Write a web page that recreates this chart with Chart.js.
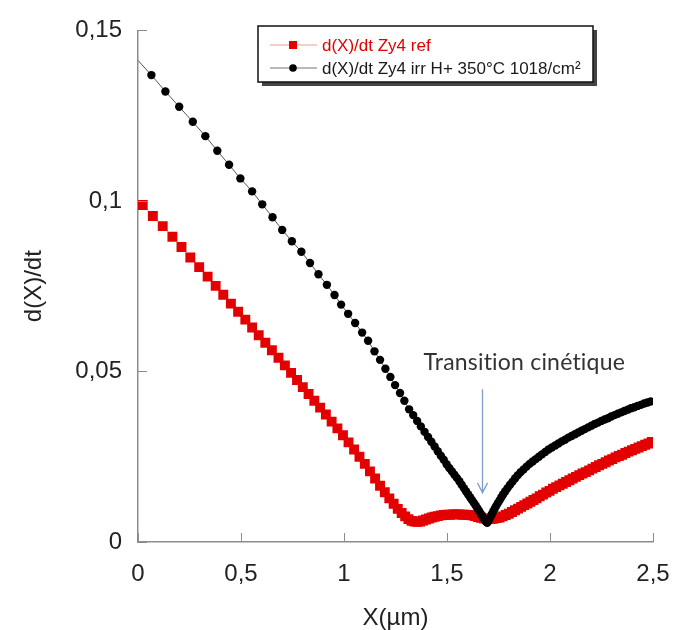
<!DOCTYPE html>
<html>
<head>
<meta charset="utf-8">
<title>d(X)/dt vs X</title>
<script src="https://cdn.jsdelivr.net/npm/chart.js@4.4.1/dist/chart.umd.min.js"></script>
<style>
  html, body { margin: 0; padding: 0; background: #fff; }
  #wrap { width: 673px; height: 630px; position: relative; }
</style>
</head>
<body>
<div id="wrap"><canvas id="rateChart" width="673" height="630"></canvas></div>
<script>
// series: X (µm) and d(X)/dt
var redLabel = 'd(X)/dt Zy4 ref';
var redX = [0.023, 0.072, 0.120, 0.167, 0.211, 0.254, 0.297, 0.338, 0.377, 0.414,
  0.451, 0.486, 0.521, 0.554, 0.586, 0.618, 0.650, 0.682, 0.713, 0.743,
  0.772, 0.800, 0.828, 0.856, 0.884, 0.912, 0.940, 0.968, 0.995, 1.022,
  1.049, 1.075, 1.101, 1.126, 1.151, 1.175, 1.198, 1.220, 1.241, 1.261,
  1.280, 1.297, 1.313, 1.328, 1.342, 1.356, 1.370, 1.384, 1.398, 1.412,
  1.426, 1.440, 1.455, 1.470, 1.485, 1.500, 1.515, 1.530, 1.545, 1.560,
  1.575, 1.590, 1.605, 1.620, 1.635, 1.650, 1.665, 1.680, 1.695, 1.710,
  1.725, 1.740, 1.755, 1.770, 1.785, 1.800, 1.815, 1.830, 1.845, 1.860,
  1.875, 1.890, 1.905, 1.920, 1.935, 1.950, 1.966, 1.982, 1.998, 2.014,
  2.030, 2.046, 2.062, 2.078, 2.094, 2.110, 2.126, 2.142, 2.158, 2.174,
  2.190, 2.206, 2.222, 2.238, 2.254, 2.270, 2.286, 2.302, 2.318, 2.334,
  2.350, 2.366, 2.382, 2.398, 2.414, 2.430, 2.446, 2.462, 2.478, 2.494];
var redY = [0.0988, 0.0956, 0.0926, 0.0895, 0.0865, 0.0834, 0.0806, 0.0778, 0.0751, 0.0725,
  0.0699, 0.0675, 0.0652, 0.0629, 0.0606, 0.0584, 0.0562, 0.0540, 0.0518, 0.0496,
  0.0475, 0.0454, 0.0434, 0.0414, 0.0394, 0.0374, 0.0353, 0.0333, 0.0313, 0.0292,
  0.0271, 0.0250, 0.0229, 0.0207, 0.0186, 0.0165, 0.0146, 0.0128, 0.0112, 0.0097,
  0.0085, 0.0075, 0.0067, 0.0062, 0.0060, 0.0059, 0.0060, 0.0063, 0.0066, 0.0069,
  0.0072, 0.0074, 0.0076, 0.0078, 0.0079, 0.0080, 0.0080, 0.0081, 0.0081, 0.0081,
  0.0080, 0.0080, 0.0079, 0.0078, 0.0076, 0.0073, 0.0071, 0.0069, 0.0067, 0.0067,
  0.0068, 0.0070, 0.0072, 0.0075, 0.0079, 0.0083, 0.0088, 0.0093, 0.0098, 0.0103,
  0.0108, 0.0113, 0.0118, 0.0123, 0.0128, 0.0134, 0.0139, 0.0145, 0.0150, 0.0156,
  0.0161, 0.0166, 0.0171, 0.0176, 0.0181, 0.0186, 0.0191, 0.0196, 0.0201, 0.0205,
  0.0210, 0.0215, 0.0220, 0.0225, 0.0229, 0.0234, 0.0239, 0.0243, 0.0248, 0.0252,
  0.0256, 0.0261, 0.0265, 0.0269, 0.0273, 0.0277, 0.0281, 0.0285, 0.0289, 0.0293];

var blackLabel = 'd(X)/dt Zy4 irr H+ 350°C 1018/cm²';
var blackX = [0, 0.065, 0.133, 0.200, 0.266, 0.327, 0.385, 0.442, 0.497, 0.554,
  0.603, 0.653, 0.700, 0.747, 0.793, 0.835, 0.876, 0.917, 0.954, 0.986,
  1.020, 1.054, 1.088, 1.117, 1.148, 1.175, 1.201, 1.225, 1.248, 1.272,
  1.293, 1.316, 1.336, 1.355, 1.373, 1.391, 1.408, 1.424, 1.440, 1.455,
  1.470, 1.484, 1.498, 1.511, 1.524, 1.536, 1.548, 1.560, 1.571, 1.582,
  1.592, 1.602, 1.612, 1.621, 1.630, 1.639, 1.647, 1.655, 1.663, 1.670,
  1.677, 1.684, 1.690, 1.695, 1.700, 1.706, 1.712, 1.718, 1.725, 1.732,
  1.739, 1.747, 1.755, 1.764, 1.773, 1.783, 1.794, 1.806, 1.818, 1.831,
  1.844, 1.858, 1.872, 1.886, 1.901, 1.916, 1.931, 1.946, 1.961, 1.977,
  1.993, 2.009, 2.025, 2.041, 2.057, 2.073, 2.089, 2.105, 2.121, 2.137,
  2.153, 2.169, 2.185, 2.201, 2.217, 2.233, 2.249, 2.265, 2.281, 2.297,
  2.313, 2.329, 2.345, 2.361, 2.377, 2.393, 2.409, 2.425, 2.441, 2.457,
  2.473, 2.489];
var blackY = [0.1412, 0.1369, 0.1321, 0.1276, 0.1232, 0.1190, 0.1147, 0.1106, 0.1066, 0.1028,
  0.0990, 0.0952, 0.0915, 0.0882, 0.0851, 0.0818, 0.0785, 0.0754, 0.0724, 0.0696,
  0.0669, 0.0642, 0.0614, 0.0590, 0.0559, 0.0534, 0.0508, 0.0484, 0.0460, 0.0437,
  0.0414, 0.0389, 0.0372, 0.0355, 0.0339, 0.0323, 0.0308, 0.0294, 0.0280, 0.0266,
  0.0253, 0.0241, 0.0228, 0.0217, 0.0207, 0.0197, 0.0188, 0.0178, 0.0168, 0.0158,
  0.0149, 0.0140, 0.0131, 0.0123, 0.0115, 0.0107, 0.0099, 0.0092, 0.0084, 0.0077,
  0.0070, 0.0064, 0.0059, 0.0056, 0.0061, 0.0068, 0.0075, 0.0082, 0.0090, 0.0098,
  0.0106, 0.0114, 0.0122, 0.0131, 0.0140, 0.0149, 0.0158, 0.0168, 0.0177, 0.0187,
  0.0196, 0.0205, 0.0213, 0.0221, 0.0229, 0.0236, 0.0243, 0.0250, 0.0257, 0.0264,
  0.0271, 0.0277, 0.0283, 0.0289, 0.0295, 0.0300, 0.0306, 0.0311, 0.0316, 0.0321,
  0.0326, 0.0331, 0.0336, 0.0341, 0.0346, 0.0350, 0.0355, 0.0359, 0.0363, 0.0368,
  0.0372, 0.0376, 0.0380, 0.0384, 0.0388, 0.0392, 0.0395, 0.0399, 0.0402, 0.0406,
  0.0409, 0.0412];

var xTickLabels = ['0', '0,5', '1', '1,5', '2', '2,5'];
var yTickLabels = ['0', '0,05', '0,1', '0,15'];
var xTitle = 'X(\u00b5m)';
var yTitle = 'd(X)/dt';

// annotation (data coordinates)
var noteText = 'Transition cinétique';
var noteX = 1.875, noteY = 0.0525;
var arrowX = 1.67, arrowTop = 0.0448, arrowTip = 0.0144;

var axisColor = '#8c8c8c';
var textColor = '#222';
var redColor = '#e30000';
var redLine = 'rgba(240,120,120,0.75)';
var blackLine = '#555';

function toPoints(xs, ys) {
  var pts = [];
  for (var i = 0; i < xs.length; i++) pts.push({ x: xs[i], y: ys[i] });
  return pts;
}

// ticks drawn inward, plus the boxed legend and the arrow note
var decorations = {
  id: 'decorations',
  afterDraw: function (chart) {
    var ctx = chart.ctx;
    var xs = chart.scales.x, ys = chart.scales.y, area = chart.chartArea;
    ctx.save();
    ctx.strokeStyle = axisColor;
    ctx.lineWidth = 1;
    xs.ticks.forEach(function (t) {
      var px = Math.round(xs.getPixelForValue(t.value)) + 0.5;
      ctx.beginPath();
      ctx.moveTo(px, area.bottom);
      ctx.lineTo(px, area.bottom - 9);
      ctx.stroke();
    });
    ys.ticks.forEach(function (t) {
      var py = Math.round(ys.getPixelForValue(t.value)) + 0.5;
      ctx.beginPath();
      ctx.moveTo(area.left, py);
      ctx.lineTo(area.left + 9, py);
      ctx.stroke();
    });

    // arrow
    var ax = Math.round(xs.getPixelForValue(arrowX)) + 0.5;
    var at = ys.getPixelForValue(arrowTop), ab = ys.getPixelForValue(arrowTip);
    ctx.strokeStyle = '#7d9fd0';
    ctx.lineWidth = 1.3;
    ctx.beginPath();
    ctx.moveTo(ax, at);
    ctx.lineTo(ax, ab);
    ctx.moveTo(ax - 5, ab - 10);
    ctx.lineTo(ax, ab);
    ctx.lineTo(ax + 5, ab - 10);
    ctx.stroke();

    ctx.fillStyle = '#333';
    ctx.font = '23px Lato, "Open Sans", sans-serif';
    ctx.letterSpacing = '0.2px';
    ctx.textAlign = 'center';
    ctx.textBaseline = 'middle';
    ctx.fillText(noteText, xs.getPixelForValue(noteX), ys.getPixelForValue(noteY));
    ctx.letterSpacing = '0px';

    // legend box
    var lx = 258, ly = 26, lw = 335, lh = 56;
    ctx.fillStyle = '#444';
    ctx.fillRect(lx + 4, ly + 4, lw, lh);
    ctx.fillStyle = '#fff';
    ctx.fillRect(lx, ly, lw, lh);
    ctx.strokeStyle = '#111';
    ctx.lineWidth = 1.5;
    ctx.strokeRect(lx, ly, lw, lh);

    var rows = [
      { y: ly + 19, line: redLine, label: redLabel, color: redColor, shape: 'rect' },
      { y: ly + 42, line: '#777', label: blackLabel, color: '#1a1a1a', shape: 'circle' }
    ];
    rows.forEach(function (r) {
      ctx.strokeStyle = r.line;
      ctx.lineWidth = 1.2;
      ctx.beginPath();
      ctx.moveTo(lx + 12, r.y);
      ctx.lineTo(lx + 59, r.y);
      ctx.stroke();
      if (r.shape === 'rect') {
        ctx.fillStyle = redColor;
        ctx.fillRect(lx + 31, r.y - 4, 8, 8);
      } else {
        ctx.fillStyle = '#000';
        ctx.beginPath();
        ctx.arc(lx + 35, r.y, 3.8, 0, Math.PI * 2);
        ctx.fill();
      }
      ctx.fillStyle = r.color;
      ctx.font = '17px "Liberation Sans", Arial, sans-serif';
      ctx.textAlign = 'left';
      ctx.textBaseline = 'middle';
      ctx.fillText(r.label, lx + 64, r.y + 1);
    });
    ctx.restore();
  }
};

var tickFont = { family: '"Liberation Sans", Arial, sans-serif', size: 24 };

new Chart(document.getElementById('rateChart'), {
  type: 'scatter',
  data: {
    datasets: [{
      label: blackLabel,
      data: toPoints(blackX, blackY),
      showLine: true,
      borderColor: blackLine,
      borderWidth: 1,
      backgroundColor: '#000',
      pointBackgroundColor: '#000',
      pointBorderWidth: 0,
      pointRadius: function (c) { return c.dataIndex === 0 ? 0 : 4.2; },
      order: 0
    }, {
      label: redLabel,
      data: toPoints(redX, redY),
      showLine: true,
      borderColor: redLine,
      borderWidth: 1,
      backgroundColor: redColor,
      pointStyle: 'rect',
      pointBackgroundColor: redColor,
      pointBorderWidth: 0,
      pointRadius: 7,
      order: 1
    }]
  },
  options: {
    responsive: false,
    devicePixelRatio: 1,
    animation: false,
    layout: { padding: { left: 0, top: 28, right: 20, bottom: 0 } },
    plugins: { legend: { display: false }, tooltip: { enabled: false } },
    scales: {
      x: {
        type: 'linear',
        min: 0, max: 2.5,
        afterFit: function (s) { s.height = 88; s.paddingLeft = 0; s.paddingRight = 20; },
        grid: { display: true, drawOnChartArea: false, drawTicks: false },
        border: { display: true, color: axisColor, width: 1.5 },
        ticks: {
          stepSize: 0.5, padding: 18, color: textColor, font: tickFont,
          maxRotation: 0,
          callback: function (v, i) { return xTickLabels[i]; }
        },
        title: { display: true, text: xTitle, color: textColor, font: { family: tickFont.family, size: 24, lineHeight: 1 }, padding: { top: 0, bottom: 0 } }
      },
      y: {
        type: 'linear',
        min: 0, max: 0.15,
        afterFit: function (s) { s.width = 138; },
        grid: { display: true, drawOnChartArea: false, drawTicks: false },
        border: { display: true, color: axisColor, width: 1.5 },
        ticks: {
          stepSize: 0.05, padding: 16, color: textColor, font: tickFont,
          callback: function (v, i) { return yTickLabels[i]; }
        },
        title: { display: true, text: yTitle, color: textColor, font: tickFont, padding: { top: 20, bottom: 0 } }
      }
    }
  },
  plugins: [decorations]
});
</script>
</body>
</html>
